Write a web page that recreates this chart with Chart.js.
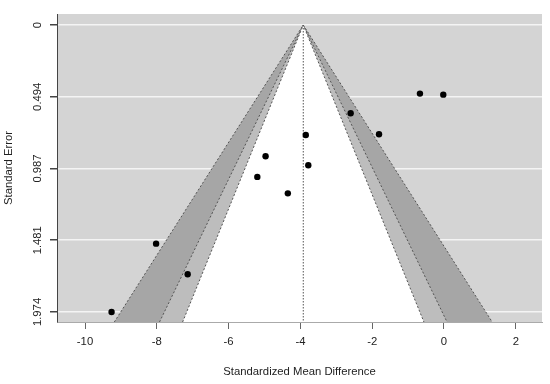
<!DOCTYPE html>
<html lang="en">
<head>
    <meta charset="UTF-8">
    <title>Funnel plot</title>
    <style>
        body { margin: 0; padding: 0; background: #fff; }
        .chart-box { width: 550px; height: 384px; }
    </style>
</head>
<body>
    <div class="chart-box">
        <canvas id="funnelChart"></canvas>
    </div>

    <script src="https://cdn.jsdelivr.net/npm/chart.js"></script>
    <script>
        // study effects (SMD) and their standard errors
        const smd = [-0.67, -0.02, -2.60, -1.81, -3.85, -3.78, -4.97, -5.20, -4.35, -8.02, -7.14, -9.26];
        const se = [0.472, 0.479, 0.607, 0.752, 0.757, 0.965, 0.903, 1.045, 1.158, 1.504, 1.715, 1.974];

        // pooled estimate and contour z values (90%, 95%, 99%)
        const estimate = -3.92;
        const zLevels = [1.645, 1.96, 2.576];
        const shades = ["#ffffff", "#bdbdbd", "#a6a6a6"];

        const xTicks = [-10, -8, -6, -4, -2, 0, 2];
        const yTicks = [0, 0.4935, 0.987, 1.4805, 1.974];
        const yTickLabels = ["0", "0.494", "0.987", "1.481", "1.974"];

        const xMin = -10.78, xMax = 2.73;
        const yMin = -0.0757, yMax = 2.043;

        const font = { family: "'Liberation Sans', Arial, sans-serif", size: 11.3 };

        function funnelSet(i) {
            const z = zLevels[i];
            return {
                type: "line",
                data: [
                    { x: estimate - z * yMax, y: yMax },
                    { x: estimate, y: 0 },
                    { x: estimate + z * yMax, y: yMax }
                ],
                backgroundColor: shades[i],
                borderColor: "#555",
                borderWidth: 1,
                borderDash: [2, 2],
                pointRadius: 0,
                fill: { value: yMax },
                tension: 0
            };
        }

        const bgPlugin = {
            id: "bg",
            beforeDraw(chart) {
                const { ctx, chartArea: a } = chart;
                ctx.save();
                ctx.fillStyle = "#fff";
                ctx.fillRect(0, 0, chart.width, chart.height);
                ctx.fillStyle = "#d4d4d4";
                ctx.fillRect(a.left, a.top, a.right - a.left, a.bottom - a.top);
                ctx.restore();
            }
        };

        new Chart(document.getElementById("funnelChart"), {
            type: "scatter",
            data: {
                datasets: [
                    {
                        data: smd.map((v, i) => ({ x: v, y: se[i] })),
                        backgroundColor: "#000",
                        borderWidth: 0,
                        pointRadius: 3.2
                    },
                    {
                        type: "line",
                        data: [{ x: estimate, y: 0 }, { x: estimate, y: yMax }],
                        borderColor: "#555",
                        borderWidth: 1,
                        borderDash: [1.5, 1.5],
                        pointRadius: 0,
                        fill: false
                    },
                    funnelSet(0),
                    funnelSet(1),
                    funnelSet(2)
                ]
            },
            options: {
                responsive: true,
                maintainAspectRatio: false,
                animation: false,
                layout: { padding: { top: 14, right: 8, left: 0, bottom: 0 } },
                plugins: { legend: { display: false }, tooltip: { enabled: false } },
                scales: {
                    x: {
                        type: "linear",
                        min: xMin,
                        max: xMax,
                        afterBuildTicks: s => { s.ticks = xTicks.map(v => ({ value: v })); },
                        afterFit: s => { s.height = 62; },
                        border: { display: true, color: "#aaa", width: 1 },
                        grid: { drawOnChartArea: false, tickLength: 7, tickColor: "#666" },
                        ticks: { font: font, color: "#222", padding: 6, callback: v => String(v) },
                        title: {
                            display: true,
                            text: "Standardized Mean Difference",
                            font: font,
                            color: "#222",
                            padding: { top: 0, bottom: 5 }
                        }
                    },
                    y: {
                        type: "linear",
                        reverse: true,
                        min: yMin,
                        max: yMax,
                        afterBuildTicks: s => { s.ticks = yTicks.map(v => ({ value: v })); },
                        afterFit: s => { s.width = 57; },
                        border: { display: true, color: "#444", width: 1 },
                        grid: { color: "#f4f4f4", lineWidth: 1.5, tickLength: 7, tickColor: "#444" },
                        ticks: {
                            font: font,
                            color: "#222",
                            minRotation: 90,
                            maxRotation: 90,
                            crossAlign: "center",
                            padding: -2,
                            callback: (v, i) => yTickLabels[i]
                        },
                        title: {
                            display: true,
                            text: "Standard Error",
                            font: font,
                            color: "#222",
                            padding: { top: 2, bottom: 0 }
                        }
                    }
                }
            },
            plugins: [bgPlugin]
        });
    </script>
</body>
</html>
